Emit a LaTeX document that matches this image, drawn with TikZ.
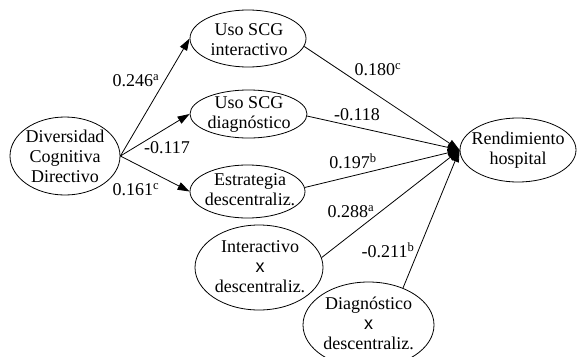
\documentclass[tikz,border=0pt]{standalone}
\usepackage{fontspec}
\setmainfont{Liberation Serif}
\newfontfamily\xfont{Liberation Sans}
\usetikzlibrary{shapes.geometric,arrows.meta}
\begin{document}
\begin{tikzpicture}[x=1pt,y=-1pt,
 oval/.style={ellipse,draw,line width=0.8pt,inner sep=0pt},
 txt/.style={align=center,inner sep=0pt,font=\fontsize{18}{20}\selectfont},
 lab/.style={inner sep=0pt,font=\fontsize{18}{20}\selectfont},
 arr/.style={line width=0.8pt,-{Triangle[length=12pt,width=8pt]}},
 ln/.style={line width=0.8pt}]
\useasboundingbox (0,0) rectangle (577,356);
\clip (0,0) rectangle (577,356);
% ovals
\node[oval,minimum width=110,minimum height=78] (div) at (65,156) {};
\node[oval,minimum width=116,minimum height=57] (ui) at (248,38.5) {};
\node[oval,minimum width=117,minimum height=48] (ud) at (248.5,114) {};
\node[oval,minimum width=115,minimum height=53] (es) at (247.5,191.5) {};
\node[oval,minimum width=128,minimum height=85] (ix) at (259,267.5) {};
\node[oval,minimum width=131,minimum height=86] (dx) at (368.5,325) {};
\node[oval,minimum width=116,minimum height=64] (rh) at (518,150) {};
% texts
\node[txt] (divt) at (div) {Diversidad\\Cognitiva\\Directivo};
\node[txt] (uit) at (249,40) {Uso SCG\\interactivo};
\node[txt] (udt) at (249,114) {Uso SCG\\diagnóstico};
\node[txt] (est) at (250,189.5) {Estrategia\\descentraliz.};
\node[txt] (ixt) at (260,267) {Interactivo\\{\xfont x}\\descentraliz.};
\node[txt] (dxt) at (368.5,323) {Diagnóstico\\{\xfont x}\\descentraliz.};
\node[txt] (rht) at (518,150) {Rendimiento\\hospital};
% connectors from Diversidad
\draw[arr] (div.east) -- (ui.west);
\draw[arr] (div.east) -- (ud.west);
\draw[arr] (div.east) -- (es.west);
% connectors to Rendimiento
\draw[arr] (ui.-8) -- (rh.west);
\draw[arr] (ud.-2) -- (rh.west);
\draw[arr] (es.4) -- (rh.west);
\draw[arr] (ix.9) -- (rh.west);
\draw[arr] (dx.47) -- (rh.west);
% labels
\node[lab] (l1) at (136,81) {0.246\textsuperscript{a}};
\node[lab] (l2) at (167,148) {-0.117};
\node[lab] (l3) at (136,190) {0.161\textsuperscript{c}};
\node[lab] (l4) at (378,70) {0.180\textsuperscript{c}};
\node[lab] (l5) at (357,115) {-0.118};
\node[lab] (l6) at (353,161) {0.197\textsuperscript{b}};
\node[lab] (l7) at (351,212) {0.288\textsuperscript{a}};
\node[lab] (l8) at (388,250) {-0.211\textsuperscript{b}};
\end{tikzpicture}
\end{document}
